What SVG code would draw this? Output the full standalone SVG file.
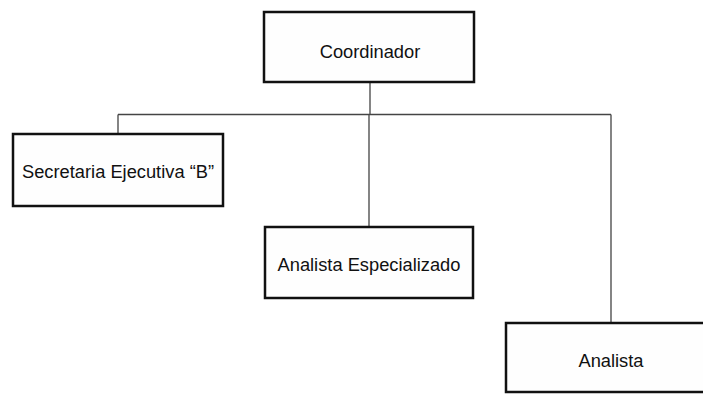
<svg xmlns="http://www.w3.org/2000/svg" width="703" height="396" viewBox="0 0 703 396">
<style>
.box{fill:#fefefe;stroke:#111;stroke-width:2.5}
.lbl{font-family:"Liberation Sans",Arial,sans-serif;font-size:18.3px;fill:#111;text-anchor:middle;dominant-baseline:central}
.con{fill:none;stroke:#444;stroke-width:1.3}
</style>
<rect width="703" height="396" fill="#fff"/>
<g id="connectors">
<path class="con" d="M370 82 V114.5 M118 114.5 H611 M118 114.5 V134 M369 114.5 V227 M611 114.5 V323"/>
</g>
<g id="coordinador">
<rect class="box" x="264" y="12" width="210" height="70"/>
<text class="lbl" x="370" y="51">Coordinador</text>
</g>
<g id="secretaria">
<rect class="box" x="13" y="134" width="210" height="72"/>
<text class="lbl" x="118" y="171">Secretaria Ejecutiva “B”</text>
</g>
<g id="analista-especializado">
<rect class="box" x="265" y="227" width="208" height="71"/>
<text class="lbl" x="369" y="264">Analista Especializado</text>
</g>
<g id="analista">
<rect class="box" x="506" y="323" width="210" height="69"/>
<text class="lbl" x="611" y="360">Analista</text>
</g>
</svg>
